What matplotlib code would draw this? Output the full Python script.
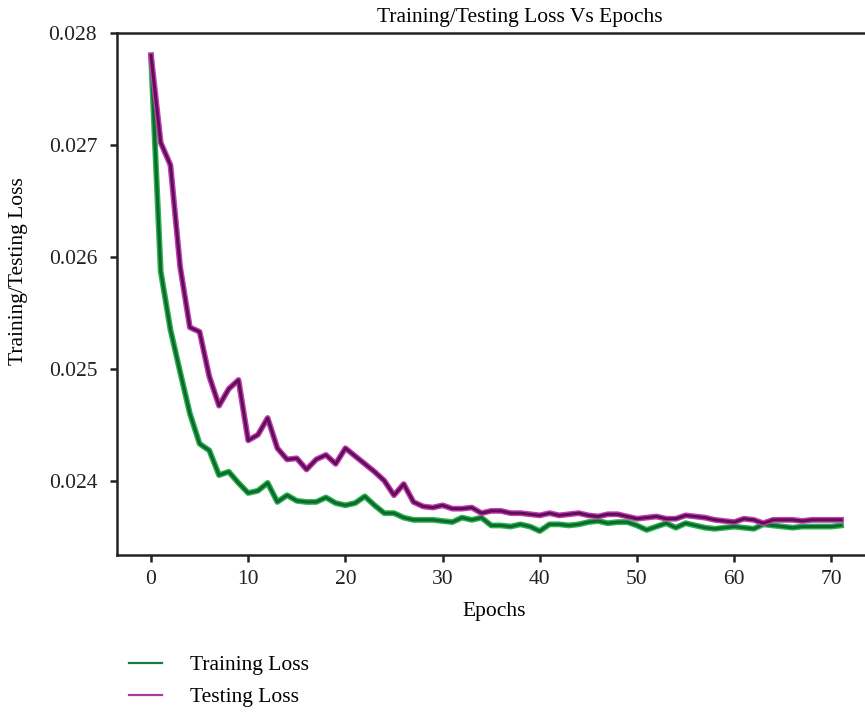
import numpy as np
import matplotlib
matplotlib.use('Agg')
import matplotlib.pyplot as plt
import matplotlib.patheffects as pe

plt.rcParams['font.family'] = 'Liberation Serif'
plt.rcParams['font.size'] = 15.5

# epochs 0..71
epochs = np.arange(72)

train_loss = [0.02780, 0.02587, 0.02535, 0.02497, 0.02460, 0.02433, 0.02427, 0.02405,
              0.02408, 0.02398, 0.02389, 0.02391, 0.02398, 0.02381, 0.02387, 0.02382,
              0.02381, 0.02381, 0.02385, 0.02380, 0.02378, 0.02380, 0.02386, 0.02378,
              0.02371, 0.02371, 0.02367, 0.02365, 0.02365, 0.02365, 0.02364, 0.02363,
              0.02367, 0.02365, 0.02367, 0.02360, 0.02360, 0.02359, 0.02361, 0.02359,
              0.02355, 0.02361, 0.02361, 0.02360, 0.02361, 0.02363, 0.02364, 0.02362,
              0.02363, 0.02363, 0.02360, 0.02356, 0.02359, 0.02362, 0.02358, 0.02362,
              0.02360, 0.02358, 0.02357, 0.02358, 0.02359, 0.02358, 0.02357, 0.02361,
              0.02360, 0.02359, 0.02358, 0.02359, 0.02359, 0.02359, 0.02359, 0.02360]

test_loss = [0.02780, 0.02702, 0.02682, 0.02591, 0.02537, 0.02533, 0.02493, 0.02467,
             0.02482, 0.02490, 0.02436, 0.02441, 0.02456, 0.02429, 0.02419, 0.02420,
             0.02410, 0.02419, 0.02423, 0.02415, 0.02429, 0.02422, 0.02415, 0.02408,
             0.02400, 0.02387, 0.02397, 0.02381, 0.02377, 0.02376, 0.02378, 0.02375,
             0.02375, 0.02376, 0.02371, 0.02373, 0.02373, 0.02371, 0.02371, 0.02370,
             0.02369, 0.02371, 0.02369, 0.02370, 0.02371, 0.02369, 0.02368, 0.02370,
             0.02370, 0.02368, 0.02366, 0.02367, 0.02368, 0.02366, 0.02366, 0.02369,
             0.02368, 0.02367, 0.02365, 0.02364, 0.02363, 0.02366, 0.02365, 0.02362,
             0.02365, 0.02365, 0.02365, 0.02364, 0.02365, 0.02365, 0.02365, 0.02365]

x_ticks = [0, 10, 20, 30, 40, 50, 60, 70]
y_ticks = [0.024, 0.025, 0.026, 0.027, 0.028]

fig = plt.figure(figsize=(8.65, 7.12), dpi=100)
ax = fig.add_axes([0.1349, 0.2205, 0.8651, 0.7332])

# lines with a light halo and dark core
ax.plot(epochs, train_loss, color='#0d6a2e', lw=2.2, zorder=3,
        path_effects=[pe.Stroke(linewidth=4.2, foreground='#2db34f'), pe.Normal()])
ax.plot(epochs, test_loss, color='#5e0f57', lw=2.2, zorder=4,
        path_effects=[pe.Stroke(linewidth=4.2, foreground='#c43fb3'), pe.Normal()])

ax.set_xlim(-3.53, 73.46)
ax.set_ylim(0.023336, 0.028)
ax.set_xticks(x_ticks)
ax.set_yticks(y_ticks)
ax.set_yticklabels(['%.3f' % v for v in y_ticks])

for s in ['left', 'bottom', 'top']:
    ax.spines[s].set_linewidth(1.8)
    ax.spines[s].set_color('#222222')
ax.spines['right'].set_visible(False)
ax.tick_params(axis='both', direction='out', length=5, width=1.8,
               colors='#222222', labelsize=15.5, pad=6)
ax.tick_params(axis='y', pad=9)

ax.set_title('Training/Testing Loss Vs Epochs', fontsize=15.5, x=0.5385, y=1.0, pad=8)
ax.set_xlabel('Epochs', fontsize=15.5)
ax.xaxis.set_label_coords(0.5045, -0.09)
ax.set_ylabel('Training/Testing Loss', fontsize=15.5)
ax.yaxis.set_label_coords(-0.118, 0.543)

# legend below the plot
h1, = ax.plot([], [], color='#1a7a44', lw=1.6, label='Training Loss')
h2, = ax.plot([], [], color='#a3409f', lw=1.6, label='Testing Loss')
fig.legend(handles=[h1, h2], loc='upper left', bbox_to_anchor=(0.1395, 0.092),
           frameon=False, handlelength=1.5, handletextpad=1.3, labelspacing=0.55,
           fontsize=15.5, borderaxespad=0)

fig.savefig('out.png', dpi=100)
